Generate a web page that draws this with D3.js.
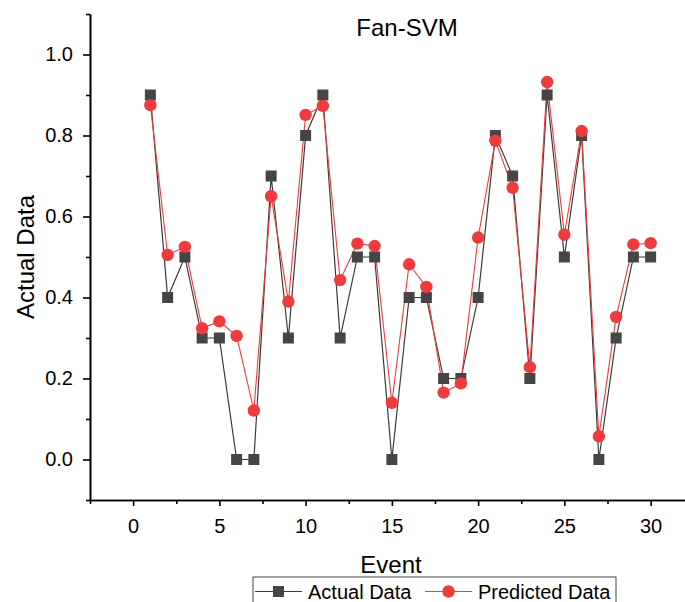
<!DOCTYPE html>
<html>
<head>
<meta charset="utf-8">
<script src="https://cdn.jsdelivr.net/npm/d3@7"></script>
<style>
  html, body { margin: 0; padding: 0; background: #fff; }
  svg { display: block; font-family: "Liberation Sans", Arial, sans-serif; }
</style>
</head>
<body>
<svg id="chart" width="685" height="602"></svg>
<script>
// Event numbers and the two series
const events = d3.range(1, 31);
const actualData = [0.9, 0.4, 0.5, 0.3, 0.3, 0.0, 0.0, 0.7, 0.3, 0.8,
                    0.9, 0.3, 0.5, 0.5, 0.0, 0.4, 0.4, 0.2, 0.2, 0.4,
                    0.8, 0.7, 0.2, 0.9, 0.5, 0.8, 0.0, 0.3, 0.5, 0.5];
const predictedData = [0.875, 0.505, 0.525, 0.324, 0.341, 0.305, 0.121, 0.65, 0.39, 0.851,
                       0.873, 0.443, 0.533, 0.527, 0.14, 0.482, 0.426, 0.165, 0.188, 0.548,
                       0.787, 0.671, 0.228, 0.932, 0.555, 0.811, 0.057, 0.352, 0.531, 0.534];
const xMajorTicks = [0, 5, 10, 15, 20, 25, 30];
const xMinorTicks = [-2.5, 2.5, 7.5, 12.5, 17.5, 22.5, 27.5, 32.5];
const yMajorTicks = [0.0, 0.2, 0.4, 0.6, 0.8, 1.0];
const yMinorTicks = [-0.1, 0.1, 0.3, 0.5, 0.7, 0.9, 1.1];
const seriesNames = ["Actual Data", "Predicted Data"];

const GREY = "#454545";
const LINE_GREY = "#3a3a3a";
const RED = "#ef3a3e";

const svg = d3.select("#chart");

const x = d3.scaleLinear().domain([-2.5, 32.5]).range([90, 693.75]);
const y = d3.scaleLinear().domain([-0.1, 1.1]).range([500, 14]);

// Axes: major ticks with labels, minor ticks without
function styleAxis(g) {
  g.select(".domain").attr("stroke", "#000").attr("stroke-width", 1.6);
  g.selectAll(".tick line").attr("stroke", "#000").attr("stroke-width", 1.6);
  g.selectAll(".tick text").attr("fill", "#000").attr("font-size", 20)
    .attr("font-family", "'Liberation Sans', Arial, sans-serif");
}

const xAxisG = svg.append("g").attr("transform", "translate(0,500)");
xAxisG.call(d3.axisBottom(x).tickValues(xMajorTicks).tickSize(6).tickPadding(13)
  .tickFormat(d3.format("d")).tickSizeOuter(0));
styleAxis(xAxisG);
const xMinorG = svg.append("g").attr("transform", "translate(0,500)");
xMinorG.call(d3.axisBottom(x).tickValues(xMinorTicks).tickSize(4).tickFormat("").tickSizeOuter(0));
styleAxis(xMinorG);

const yAxisG = svg.append("g").attr("transform", "translate(90,0)");
yAxisG.call(d3.axisLeft(y).tickValues(yMajorTicks).tickSize(7).tickPadding(10)
  .tickFormat(d3.format(".1f")).tickSizeOuter(0));
styleAxis(yAxisG);
const yMinorG = svg.append("g").attr("transform", "translate(90,0)");
yMinorG.call(d3.axisLeft(y).tickValues(yMinorTicks).tickSize(4).tickFormat("").tickSizeOuter(0));
styleAxis(yMinorG);

// Titles
svg.append("text").attr("x", 407).attr("y", 36).attr("text-anchor", "middle")
  .attr("font-size", 24).attr("fill", "#000").text("Fan-SVM");
svg.append("text").attr("x", 391).attr("y", 573).attr("text-anchor", "middle")
  .attr("font-size", 24).attr("fill", "#000").text("Event");
svg.append("text").attr("transform", "translate(34,257) rotate(-90)")
  .attr("text-anchor", "middle").attr("font-size", 24).attr("fill", "#000").text("Actual Data");

// Series lines
const line = d3.line().x(d => x(d[0])).y(d => y(d[1]));
const actualPts = events.map((e, i) => [e, actualData[i]]);
const predPts = events.map((e, i) => [e, predictedData[i]]);

svg.append("path").datum(actualPts).attr("d", line)
  .attr("fill", "none").attr("stroke", LINE_GREY).attr("stroke-width", 1.2);
svg.append("path").datum(predPts).attr("d", line)
  .attr("fill", "none").attr("stroke", RED).attr("stroke-width", 1.1);

// Markers
const SQ = 11;
svg.append("g").selectAll("rect").data(actualPts).join("rect")
  .attr("x", d => x(d[0]) - SQ / 2).attr("y", d => y(d[1]) - SQ / 2)
  .attr("width", SQ).attr("height", SQ).attr("fill", GREY);
svg.append("g").selectAll("circle").data(predPts).join("circle")
  .attr("cx", d => x(d[0])).attr("cy", d => y(d[1])).attr("r", 6.2).attr("fill", RED);

// Legend
const legend = svg.append("g");
legend.append("rect").attr("x", 253).attr("y", 577).attr("width", 363).attr("height", 40)
  .attr("fill", "#fff").attr("stroke", "#444").attr("stroke-width", 1);
const ly = 591.5;
legend.append("line").attr("x1", 255).attr("x2", 302).attr("y1", ly).attr("y2", ly)
  .attr("stroke", LINE_GREY).attr("stroke-width", 1.2);
legend.append("rect").attr("x", 278.5 - SQ / 2).attr("y", ly - SQ / 2)
  .attr("width", SQ).attr("height", SQ).attr("fill", GREY);
legend.append("text").attr("x", 308).attr("y", 599).attr("font-size", 20)
  .attr("fill", "#000").text(seriesNames[0]);
legend.append("line").attr("x1", 425).attr("x2", 472).attr("y1", ly).attr("y2", ly)
  .attr("stroke", RED).attr("stroke-width", 1.1);
legend.append("circle").attr("cx", 448.5).attr("cy", ly).attr("r", 6.2).attr("fill", RED);
legend.append("text").attr("x", 478).attr("y", 599).attr("font-size", 20)
  .attr("fill", "#000").text(seriesNames[1]);
</script>
</body>
</html>
